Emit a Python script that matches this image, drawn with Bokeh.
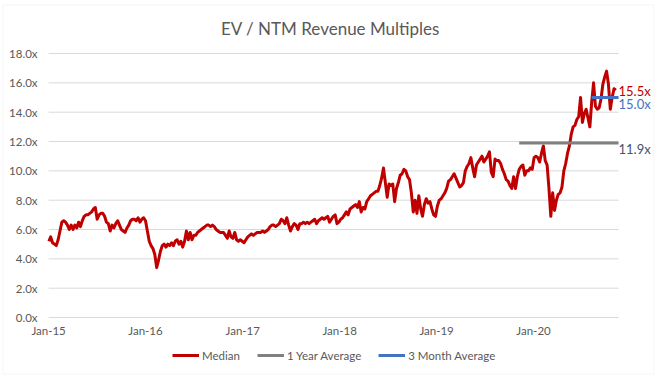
import pandas as pd
from bokeh.plotting import figure
from bokeh.models import (Range1d, FixedTicker, PrintfTickFormatter, DatetimeTickFormatter,
                          Label, Legend, LegendItem, BoxAnnotation)
from bokeh.embed import file_html
from bokeh.resources import INLINE

# ---------------- data ----------------
title_text = "EV / NTM Revenue Multiples"
first_date = "2015-01-02"          # weekly observations from here
axis_start = "2015-01-01"          # left edge of the plot area
grid_end = "2020-11-16"            # right edge of the plot area
year_ticks = ["2015-01-01", "2016-01-01", "2017-01-01", "2018-01-01", "2019-01-01", "2020-01-01"]
y_ticks = [0, 2, 4, 6, 8, 10, 12, 14, 16, 18]

median_2015 = [5.2, 5.5, 5.1, 5.0, 4.9, 5.3, 5.9, 6.5, 6.6, 6.5,
               6.3, 6.0, 6.3, 6.0, 6.3, 6.1, 6.5, 6.2, 6.6, 6.9,
               7.0, 7.0, 7.1, 7.2, 7.4, 7.5, 6.7, 7.0, 7.1, 7.1,
               6.9, 6.5, 6.4, 5.9, 6.3, 6.1, 6.4, 6.6, 6.3, 6.0,
               5.9, 5.8, 6.1, 6.3, 6.6, 6.7, 6.7, 6.6, 6.8, 6.5,
               6.7, 6.8]
median_2016 = [6.6, 5.9, 5.2, 4.9, 4.7, 4.3, 3.4, 3.9, 4.5, 4.9,
               5.0, 4.8, 5.0, 4.9, 5.1, 4.9, 5.2, 5.3, 5.0, 5.2,
               4.8, 5.2, 5.9, 5.3, 5.8, 5.3, 5.6, 5.6, 5.8, 5.9,
               6.0, 6.1, 6.2, 6.3, 6.3, 6.2, 6.3, 6.2, 6.0, 5.9,
               5.8, 5.8, 5.8, 5.6, 5.4, 5.9, 5.5, 5.4, 5.8, 5.3,
               5.2, 5.3]
median_2017 = [5.2, 5.1, 5.3, 5.5, 5.6, 5.7, 5.6, 5.7, 5.8, 5.8,
               5.8, 5.9, 5.8, 5.9, 6.0, 6.2, 6.3, 6.3, 6.2, 6.3,
               6.4, 6.7, 6.6, 6.4, 6.8, 6.3, 5.9, 6.2, 6.4, 6.3,
               6.0, 6.4, 6.4, 6.5, 6.4, 6.5, 6.4, 6.5, 6.6, 6.7,
               6.4, 6.6, 6.7, 6.8, 6.7, 6.8, 6.9, 6.5, 6.7, 6.9,
               7.0, 6.4]
median_2018 = [6.5, 6.7, 6.8, 7.0, 7.2, 7.0, 7.4, 7.5, 7.6, 7.7,
               7.5, 7.9, 7.2, 7.5, 7.4, 7.9, 8.1, 8.3, 8.4, 8.5,
               8.6, 8.6, 9.0, 9.5, 10.2, 9.2, 8.2, 9.1, 9.0, 9.1,
               7.9, 8.8, 9.2, 9.7, 9.8, 10.1, 10.0, 9.6, 9.4, 8.5,
               7.2, 8.0, 7.1, 8.3, 7.4, 6.9, 7.7, 8.1, 7.8, 7.9,
               7.4, 7.0]
median_2019 = [6.9, 7.6, 8.0, 8.1, 8.3, 8.5, 8.8, 9.3, 9.4, 9.6,
               9.8, 9.5, 9.2, 8.9, 9.0, 9.2, 10.0, 10.3, 10.5, 10.9,
               10.2, 9.6, 10.4, 10.6, 10.8, 11.0, 10.6, 10.8, 11.0, 11.3,
               9.9, 9.6, 10.8, 10.7, 10.7, 10.5, 10.1, 9.8, 9.4, 9.3,
               9.0, 8.8, 9.6, 8.8, 9.6, 10.1, 10.3, 10.4, 9.7, 10.0,
               10.0, 10.2]
median_2020 = [10.1, 10.9, 11.0, 10.9, 10.6, 11.2, 11.7, 10.7, 10.4, 8.8,
               6.9, 8.5, 7.3, 8.0, 8.4, 8.5, 8.9, 10.0, 10.5, 11.2,
               11.7, 12.5, 13.0, 13.1, 13.5, 13.7, 15.0, 13.3, 13.9, 14.2,
               13.6, 13.0, 14.7, 16.0, 14.4, 14.2, 14.3, 14.9, 15.9, 16.4,
               16.8, 15.9, 14.2, 15.0, 15.6, 15.5]
median = median_2015 + median_2016 + median_2017 + median_2018 + median_2019 + median_2020

one_year_avg = 11.9
three_month_avg = 15.0
one_year_weeks = 52
three_month_weeks = 13

series_names = ["Median", "1 Year Average", "3 Month Average"]
series_colors = ["#C00000", "#808080", "#4472C4"]
avg1_label_color = "#44546A"

# ---------------- view (whole canvas is the frame; the plot area is drawn inside it) ----------------
FONT = "Lato"
TXT = "#595959"
view_x = ("2014-07-04", "2021-04-23")
view_y = (-4.295, 21.614)

dates = pd.date_range(first_date, periods=len(median), freq="7D")
a_start = pd.Timestamp(axis_start)
g_end = pd.Timestamp(grid_end)
ms = lambda t: pd.Timestamp(t).value / 1e6

p = figure(width=660, height=380, x_axis_type="datetime",
           x_range=Range1d(pd.Timestamp(view_x[0]), pd.Timestamp(view_x[1])),
           y_range=Range1d(*view_y),
           output_backend="svg", toolbar_location=None,
           min_border_left=0, min_border_right=0, min_border_top=0, min_border_bottom=0)
p.title.visible = False
p.outline_line_color = None
p.background_fill_color = "white"
p.border_fill_color = "white"
p.xgrid.visible = False
p.ygrid.visible = False

# chart border
p.add_layout(BoxAnnotation(left=2.5, right=653.5, top=4.5, bottom=373.5,
                           left_units="canvas", right_units="canvas",
                           top_units="canvas", bottom_units="canvas",
                           fill_alpha=0, line_color="#D9D9D9", line_width=1))

# horizontal gridlines across the plot area
p.segment(x0=[a_start] * len(y_ticks), y0=y_ticks, x1=[g_end] * len(y_ticks), y1=y_ticks,
          line_color="#D9D9D9", line_width=1)

p.yaxis.ticker = FixedTicker(ticks=y_ticks)
p.yaxis.formatter = PrintfTickFormatter(format="%.1fx")
p.yaxis.fixed_location = ms(axis_start)
p.xaxis.ticker = FixedTicker(ticks=[ms(t) for t in year_ticks])
p.xaxis.formatter = DatetimeTickFormatter(years="%b-%y", months="%b-%y", days="%b-%y",
                                          hours="%b-%y", minutes="%b-%y")
p.xaxis.fixed_location = 0
for ax in (p.xaxis[0], p.yaxis[0]):
    ax.axis_line_color = None
    ax.major_tick_line_color = None
    ax.minor_tick_line_color = None
    ax.major_tick_out = 0
    ax.major_tick_in = 0
    ax.minor_tick_out = 0
    ax.major_label_text_font = FONT
    ax.major_label_text_font_size = "11.5px"
    ax.major_label_text_color = TXT
p.yaxis.major_label_standoff = 11
p.xaxis.major_label_standoff = 6

r_med = p.line(dates, median, line_color=series_colors[0], line_width=3, line_join="round")
r_1y = p.line([dates[-1] - pd.Timedelta(weeks=one_year_weeks), g_end], [one_year_avg, one_year_avg],
              line_color=series_colors[1], line_width=3)
r_3m = p.line([dates[-1] - pd.Timedelta(weeks=three_month_weeks), g_end], [three_month_avg, three_month_avg],
              line_color=series_colors[2], line_width=3)

# value labels at the right end
for val, col, yoff in [(median[-1], series_colors[0], -1),
                       (three_month_avg, series_colors[2], -6),
                       (one_year_avg, avg1_label_color, -6)]:
    p.add_layout(Label(x=ms(grid_end), y=val, x_offset=0, y_offset=yoff, text=f"{val:.1f}x",
                       text_baseline="middle", text_align="left", text_color=col,
                       text_font=FONT, text_font_size="13px"))

# title
p.add_layout(Label(x=330, y=352, x_units="screen", y_units="screen", text=title_text,
                   text_align="center", text_baseline="middle", text_color=TXT,
                   text_font=FONT, text_font_size="17px"))

legend = Legend(items=[LegendItem(label=series_names[0], renderers=[r_med]),
                       LegendItem(label=series_names[1], renderers=[r_1y]),
                       LegendItem(label=series_names[2], renderers=[r_3m])],
                orientation="horizontal", location=(172, 18))
legend.border_line_color = None
legend.background_fill_alpha = 0
legend.padding = 0
legend.margin = 0
legend.spacing = 17
legend.glyph_width = 27
legend.glyph_height = 14
legend.label_height = 14
legend.label_standoff = 3
legend.label_text_font = FONT
legend.label_text_font_size = "11.5px"
legend.label_text_color = TXT
p.add_layout(legend, "center")

open("out.html", "w").write(file_html(p, INLINE))
